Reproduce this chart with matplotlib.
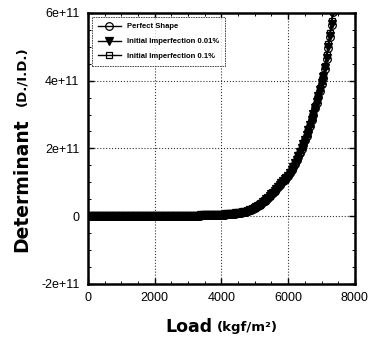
import matplotlib
matplotlib.use('Agg')
import matplotlib.pyplot as plt
from matplotlib.ticker import MultipleLocator

plt.rcParams['font.family'] = ['Liberation Sans', 'DejaVu Sans']

# load (kgf/m^2)
load = list(range(0, 7450, 50))

# determinant values in units of 1e11
det_base = [
    0.000, 0.000, 0.000, 0.001, 0.001, 0.001, 0.001, 0.001, 0.001, 0.001,
    0.001, 0.002, 0.002, 0.002, 0.002, 0.002, 0.002, 0.003, 0.003, 0.003,
    0.003, 0.003, 0.003, 0.004, 0.004, 0.004, 0.004, 0.005, 0.005, 0.005,
    0.005, 0.005, 0.005, 0.006, 0.006, 0.006, 0.006, 0.007, 0.007, 0.007,
    0.007, 0.008, 0.008, 0.008, 0.008, 0.009, 0.009, 0.009, 0.009, 0.010,
    0.010, 0.010, 0.011, 0.011, 0.011, 0.012, 0.012, 0.013, 0.013, 0.014,
    0.014, 0.015, 0.015, 0.016, 0.016, 0.017, 0.018, 0.019, 0.020, 0.021,
    0.022, 0.024, 0.025, 0.027, 0.028, 0.030, 0.032, 0.034, 0.036, 0.039,
    0.042, 0.045, 0.048, 0.052, 0.056, 0.060, 0.065, 0.070, 0.076, 0.082,
    0.089, 0.096, 0.104, 0.113, 0.123, 0.134, 0.150, 0.170, 0.190, 0.210,
    0.24, 0.27, 0.30, 0.33, 0.37, 0.41, 0.45, 0.49, 0.54, 0.59,
    0.64, 0.69, 0.74, 0.80, 0.86, 0.92, 0.98, 1.03, 1.08, 1.13,
    1.19, 1.27, 1.36, 1.45, 1.55, 1.65, 1.76, 1.87, 1.99, 2.11,
    2.24, 2.38, 2.52, 2.67, 2.83, 3.00, 3.18, 3.35, 3.52, 3.70,
    3.90, 4.08, 4.35, 4.65, 4.97, 5.30, 5.65, 6.02, 6.40,
]

perfect = [v * 1e11 for v in det_base]
imp_001 = [v * 1.005e11 for v in det_base]
imp_01 = [v * 1.02e11 for v in det_base]

labels = ['Perfect Shape', 'Initial Imperfection 0.01%', 'Initial Imperfection 0.1%']

fig = plt.figure(figsize=(3.74, 3.40), dpi=100)
ax = fig.add_axes([0.235, 0.165, 0.714, 0.797])

ax.plot(load, perfect, color='black', lw=1, marker='o', ms=5.5, mfc='none', mew=0.9, label=labels[0])
ax.plot(load, imp_001, color='black', lw=1, marker='v', ms=5.5, mfc='black', mew=0.9, label=labels[1])
ax.plot(load, imp_01, color='black', lw=1, marker='s', ms=5, mfc='none', mew=0.9, label=labels[2])

ax.set_xlim(0, 8000)
ax.set_ylim(-2e11, 6e11)
ax.set_xticks([0, 2000, 4000, 6000, 8000])
ax.set_yticks([-2e11, 0, 2e11, 4e11, 6e11])
ax.set_yticklabels(['-2e+11', '0', '2e+11', '4e+11', '6e+11'])
ax.xaxis.set_minor_locator(MultipleLocator(500))
ax.yaxis.set_minor_locator(MultipleLocator(0.5e11))
ax.tick_params(which='both', direction='in', top=True, right=True, labelsize=9, pad=6)
ax.tick_params(which='major', length=4, width=1)
ax.tick_params(which='minor', length=2, width=0.7)
ax.grid(True, which='major', ls=':', color='black', lw=0.8, alpha=0.8)
for s in ax.spines.values():
    s.set_linewidth(1.8)

leg = ax.legend(loc='upper left', frameon=True, fancybox=False,
                borderpad=0.8, handlelength=3, labelspacing=1.0,
                prop={'weight': 'bold', 'size': 5.5})
leg.get_frame().set_edgecolor('black')
leg.get_frame().set_linewidth(0.6)
leg.get_frame().set_linestyle((0, (2, 1)))

fig.text(213 / 374, 1 - 327 / 340, 'Load', ha='right', va='center',
         fontsize=12.5, fontweight='bold', family='DejaVu Sans')
fig.text(217 / 374, 1 - 327 / 340, '(kgf/m²)', ha='left', va='center',
         fontsize=9.5, fontweight='bold', family='DejaVu Sans')
fig.text(22 / 374, 1 - 252 / 340, 'Determinant', ha='center', va='bottom', rotation=90,
         fontsize=13.5, fontweight='bold', family='DejaVu Sans')
fig.text(22 / 374, 1 - 106 / 340, '(D./I.D.)', ha='center', va='bottom', rotation=90,
         fontsize=9.5, fontweight='bold', family='DejaVu Sans')

fig.savefig('out.png', dpi=100)
